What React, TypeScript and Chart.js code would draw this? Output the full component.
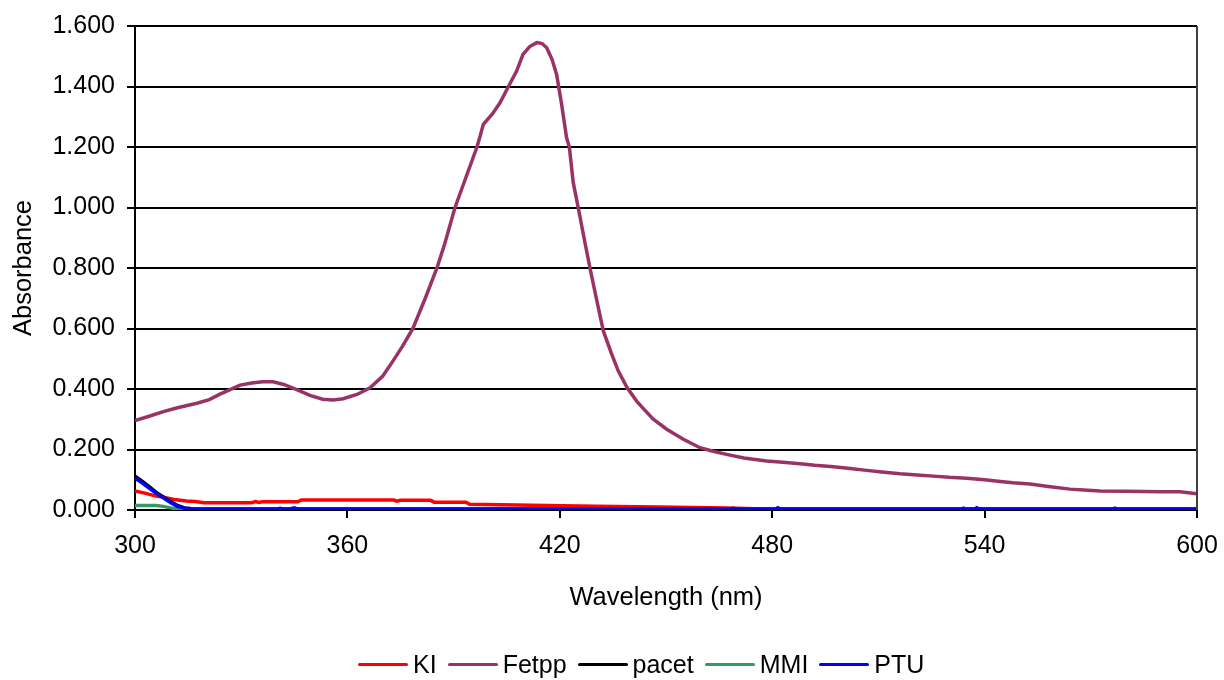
import React, { useEffect, useRef } from "react";
import { Chart, registerables } from "chart.js";

Chart.register(...registerables);

// ---- Data ----
const xTickMin = 300;
const xTickMax = 600;
const xTickStep = 60;
const yTickMin = 0;
const yTickMax = 1.6;
const yTickStep = 0.2;

const seriesNames = ["KI", "Fetpp", "pacet", "MMI", "PTU"];
const seriesColors = ["#FF0000", "#993366", "#000000", "#339966", "#0000FF"];

const kiWavelength = [300, 303, 306, 309, 311, 314.5, 317, 319.5, 333, 334, 335, 336, 346, 347, 373, 374, 375, 383.5, 384.5, 393.5, 394.5, 412, 430, 448, 467, 475, 600];
const kiAbsorbance = [0.063, 0.055, 0.046, 0.04, 0.035, 0.03, 0.028, 0.024, 0.024, 0.028, 0.025, 0.027, 0.027, 0.033, 0.033, 0.029, 0.032, 0.032, 0.026, 0.026, 0.019, 0.016, 0.012, 0.01, 0.007, 0.004, 0.003];

const fetppWavelength = [300, 304, 308, 312, 317.5, 321, 324, 327, 329.7, 333, 336, 339, 342, 345.7, 349.4, 353, 356, 358.8, 362.7, 366.4, 370, 372.9, 375.5, 378.5, 382, 385.3, 387.5, 390.4, 393.5, 396.6, 397.5, 398.4, 401, 403.1, 405.5, 407.8, 409.6, 411.5, 413.5, 415, 416.3, 417.8, 419.1, 420.5, 421.9, 422.7, 423.8, 425.2, 427, 428.7, 430.5, 432.3, 434.5, 436.5, 439, 441.7, 444, 446.4, 450.2, 454.9, 459.6, 463, 467.1, 472, 478.4, 483, 487.9, 492, 497.3, 502, 506.7, 511, 516.1, 521, 525.5, 530, 534.9, 540, 544.4, 548, 552.8, 558, 564.1, 568, 572.6, 580, 590, 595.2, 600];
const fetppAbsorbance = [0.296, 0.31, 0.325, 0.338, 0.353, 0.365, 0.383, 0.399, 0.413, 0.42, 0.424, 0.424, 0.415, 0.398, 0.379, 0.366, 0.364, 0.368, 0.382, 0.404, 0.443, 0.493, 0.54, 0.6, 0.7, 0.8, 0.88, 1.0, 1.1, 1.2, 1.236, 1.275, 1.31, 1.346, 1.4, 1.451, 1.506, 1.532, 1.545, 1.542, 1.528, 1.49, 1.44, 1.342, 1.231, 1.2, 1.082, 1.0, 0.89, 0.79, 0.69, 0.592, 0.52, 0.46, 0.405, 0.36, 0.33, 0.3, 0.267, 0.234, 0.206, 0.195, 0.184, 0.172, 0.162, 0.158, 0.153, 0.148, 0.143, 0.137, 0.131, 0.126, 0.12, 0.116, 0.112, 0.108, 0.105, 0.1, 0.094, 0.09, 0.086, 0.078, 0.069, 0.066, 0.063, 0.062, 0.06, 0.06, 0.054];

const pacetWavelength = [300, 302, 304, 306, 308, 310, 312, 314, 316, 600];
const pacetAbsorbance = [0.112, 0.095, 0.077, 0.058, 0.043, 0.028, 0.015, 0.007, 0.004, 0.003];

const mmiWavelength = [300, 306, 308, 310, 312, 314, 600];
const mmiAbsorbance = [0.015, 0.015, 0.012, 0.007, 0.004, 0.003, 0.003];

const ptuWavelength = [300, 302, 304, 306, 308, 310, 312, 314, 316, 340, 341, 342, 344, 345, 346, 468, 469, 470, 481, 481.6, 482.2, 533.4, 534, 534.6, 537.2, 537.8, 538.4, 576.2, 576.8, 577.4, 600];
const ptuAbsorbance = [0.105, 0.09, 0.072, 0.055, 0.04, 0.025, 0.012, 0.006, 0.004, 0.003, 0.006, 0.003, 0.004, 0.007, 0.003, 0.003, 0.006, 0.003, 0.003, 0.007, 0.003, 0.003, 0.006, 0.003, 0.003, 0.007, 0.003, 0.003, 0.006, 0.003, 0.003];

const seriesWavelengths = [kiWavelength, fetppWavelength, pacetWavelength, mmiWavelength, ptuWavelength];
const seriesAbsorbances = [kiAbsorbance, fetppAbsorbance, pacetAbsorbance, mmiAbsorbance, ptuAbsorbance];

const xTitle = "Wavelength (nm)";
const yTitle = "Absorbance";

const FONT = "'Liberation Sans', Arial, sans-serif";

const rightBorderPlugin = {
  id: "rightBorder",
  afterDatasetsDraw(chart: any) {
    const { ctx, chartArea } = chart;
    ctx.save();
    ctx.strokeStyle = "#404040";
    ctx.lineWidth = 2;
    ctx.beginPath();
    ctx.moveTo(chartArea.right, chartArea.top);
    ctx.lineTo(chartArea.right, chartArea.bottom);
    ctx.stroke();
    ctx.restore();
  },
};

export default function App() {
  const canvasRef = useRef<HTMLCanvasElement | null>(null);

  useEffect(() => {
    document.body.style.margin = "0";
    const canvas = canvasRef.current;
    if (!canvas) return;
    const datasets = seriesNames.map((name, i) => ({
      label: name,
      data: seriesWavelengths[i].map((x, j) => ({ x, y: seriesAbsorbances[i][j] })),
      borderColor: seriesColors[i],
      backgroundColor: seriesColors[i],
      borderWidth: 3.5,
      pointRadius: 0,
      tension: 0,
      order: seriesNames.length - i,
    }));
    const chart = new Chart(canvas, {
      type: "line",
      data: { datasets },
      plugins: [rightBorderPlugin],
      options: {
        animation: false,
        responsive: false,
        layout: { padding: { left: 0, right: 27, top: 26, bottom: 0 } },
        plugins: {
          legend: { display: false },
          tooltip: { enabled: false },
        },
        scales: {
          x: {
            type: "linear",
            min: xTickMin,
            max: xTickMax,
            ticks: {
              stepSize: xTickStep,
              color: "#000",
              font: { family: FONT, size: 25 },
              padding: 13,
              maxRotation: 0,
            },
            grid: {
              drawOnChartArea: false,
              drawTicks: true,
              tickLength: 8,
              color: "#000",
              lineWidth: 2,
            },
            border: { display: true, color: "#000", width: 2 },
            title: {
              display: true,
              text: xTitle,
              color: "#000",
              font: { family: FONT, size: 25.5 },
              padding: { top: 0, bottom: 67 },
            },
            afterFit: (scale: any) => {
              scale.height = 170;
              scale.paddingLeft = 0;
              scale.paddingRight = 0;
            },
          },
          y: {
            type: "linear",
            min: yTickMin,
            max: yTickMax,
            ticks: {
              stepSize: yTickStep,
              color: "#000",
              font: { family: FONT, size: 25 },
              padding: 12,
              callback: (v: any) => Number(v).toFixed(3),
            },
            grid: {
              drawOnChartArea: true,
              drawTicks: true,
              tickLength: 8,
              color: "#000",
              lineWidth: 2,
            },
            border: { display: true, color: "#000", width: 2 },
            title: {
              display: true,
              text: yTitle,
              color: "#000",
              font: { family: FONT, size: 25.5 },
              padding: { top: 9, bottom: 0 },
            },
            afterFit: (scale: any) => {
              scale.width = 135;
              scale.paddingTop = 0;
              scale.paddingBottom = 0;
            },
          },
        },
      },
    });
    return () => chart.destroy();
  }, []);

  return (
    <div style={{ position: "relative", width: 1224, height: 680, background: "#fff" }}>
      <canvas ref={canvasRef} width={1224} height={680} style={{ display: "block" }} />
      <div
        style={{
          position: "absolute",
          top: 650,
          left: 358,
          display: "flex",
          alignItems: "center",
          fontFamily: FONT,
          fontSize: 25,
          lineHeight: "28px",
          color: "#000",
          whiteSpace: "nowrap",
        }}
      >
        {seriesNames.map((name, i) => (
          <div key={name} style={{ display: "flex", alignItems: "center", marginRight: 11 }}>
            <span
              style={{
                display: "inline-block",
                width: 50,
                height: 3,
                borderRadius: 2,
                background: seriesColors[i],
                marginRight: 5,
              }}
            />
            <span>{name}</span>
          </div>
        ))}
      </div>
    </div>
  );
}
